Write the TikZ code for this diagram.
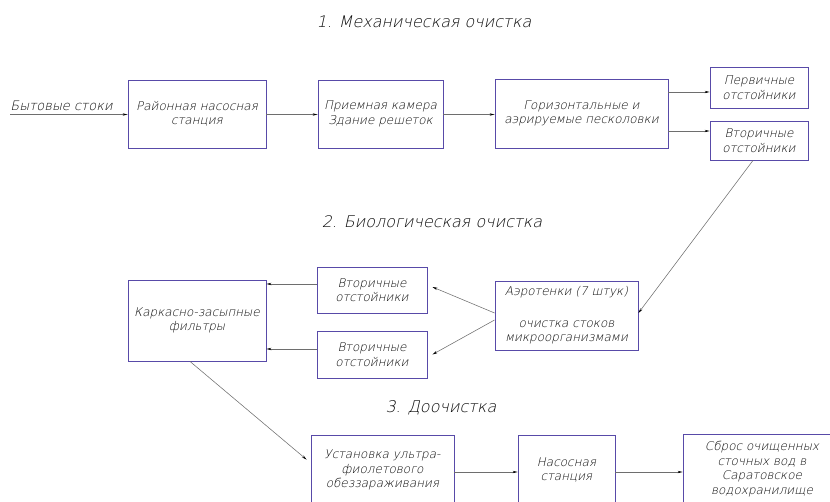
\documentclass[tikz,border=0pt]{standalone}
\usepackage{fontspec}
\setmainfont{DejaVu Sans ExtraLight}[FakeSlant=0.22]
\usetikzlibrary{arrows.meta}
\definecolor{boxcol}{RGB}{88,74,168}
\definecolor{linecol}{RGB}{110,110,110}
\definecolor{txtcol}{RGB}{10,10,10}
\tikzset{
  stage/.style={draw=boxcol, line width=0.9pt, align=center, inner sep=0pt,
    text=txtcol, font=\fontsize{12}{14.5}\selectfont},
  heading/.style={text=txtcol, font=\fontsize{16}{18}\selectfont},
  flow/.style={draw=linecol, line width=0.55pt,
    -{Stealth[length=5pt,width=2.4pt,color=black]}},
}
\begin{document}
\begin{tikzpicture}[x=1pt,y=-1pt]
\useasboundingbox (0,0) rectangle (830,502);
\clip (0,0) rectangle (830,502);

% stage headings
\node[heading] (h1) at (424,22) {1. Механическая очистка};
\node[heading] (h2) at (432,222) {2. Биологическая очистка};
\node[heading] (h3) at (441,408) {3. Доочистка};

% 1. mechanical treatment
\node[stage, minimum width=138, minimum height=68] (rns) at (197,114) {Районная насосная\\станция};
\node[stage, minimum width=125, minimum height=68] (pk) at (380.5,114) {Приемная камера\\Здание решеток};
\node[stage, minimum width=173, minimum height=69] (gp) at (581.5,113.5) {Горизонтальные и\\аэрируемые песколовки};
\node[stage, minimum width=98, minimum height=41] (po) at (759,87.5) {Первичные\\отстойники};
\node[stage, minimum width=98, minimum height=39] (vo1) at (759,140.5) {Вторичные\\отстойники};

% 2. biological treatment
\node[stage, minimum width=143, minimum height=69] (aer) at (566.5,315.5)
  {Аэротенки (7 штук)\\[17pt]очистка стоков\\микроорганизмами};
\node[stage, minimum width=110, minimum height=46] (vo2) at (372,290) {Вторичные\\отстойники};
\node[stage, minimum width=110, minimum height=47] (vo3) at (372,354.5) {Вторичные\\отстойники};
\node[stage, minimum width=138, minimum height=81] (kzf) at (197,320.5) {Каркасно-засыпные\\фильтры};

% 3. post-treatment
\node[stage, minimum width=143, minimum height=70] (uf) at (382.5,470) {Установка ультра-\\фиолетового\\обеззараживания};
\node[stage, minimum width=97, minimum height=70] (ns) at (566.5,470) {Насосная\\станция};
\node[stage, minimum width=158, minimum height=70] (sbros) at (762,469) {Сброс очищенных\\сточных вод в\\Саратовское\\водохранилище};

% inflow
\node[stage, draw=none, anchor=south west, inner sep=0pt, font=\fontsize{13}{15}\selectfont] (inlet) at (10,111) {Бытовые стоки};
\coordinate (src) at (10,114.5);
\draw[flow] (src) -- (rns.west |- src);

% routing levels
\coordinate (y92) at (0,92);
\coordinate (y131) at (0,131);
\coordinate (y284) at (0,284);
\coordinate (y349) at (0,349);
\coordinate (y472) at (0,472);

\draw[flow] (rns.east |- src) -- (pk.west |- src);
\draw[flow] (pk.east |- src) -- (gp.west |- src);
\draw[flow] (gp.east |- y92) -- (po.west |- y92);
\draw[flow] (gp.east |- y131) -- (po.west |- y131);
\draw[flow] ([xshift=-6pt]vo1.south) -- ([yshift=2.5pt]aer.east);
\draw[flow] ([yshift=2.5pt]aer.west) -- ([xshift=5pt,yshift=3pt]vo2.east);
\draw[flow] ([yshift=-4.5pt]aer.west) -- ([xshift=5pt]vo3.east);
\draw[flow] (vo2.west |- y284) -- (kzf.east |- y284);
\draw[flow] (vo3.west |- y349) -- (kzf.east |- y349);
\draw[flow] ([xshift=-7pt]kzf.south) -- ([xshift=-4pt,yshift=-25pt]uf.north west);
\draw[flow] (uf.east |- y472) -- (ns.west |- y472);
\draw[flow] (ns.east |- y472) -- (sbros.west |- y472);
\end{tikzpicture}
\end{document}
